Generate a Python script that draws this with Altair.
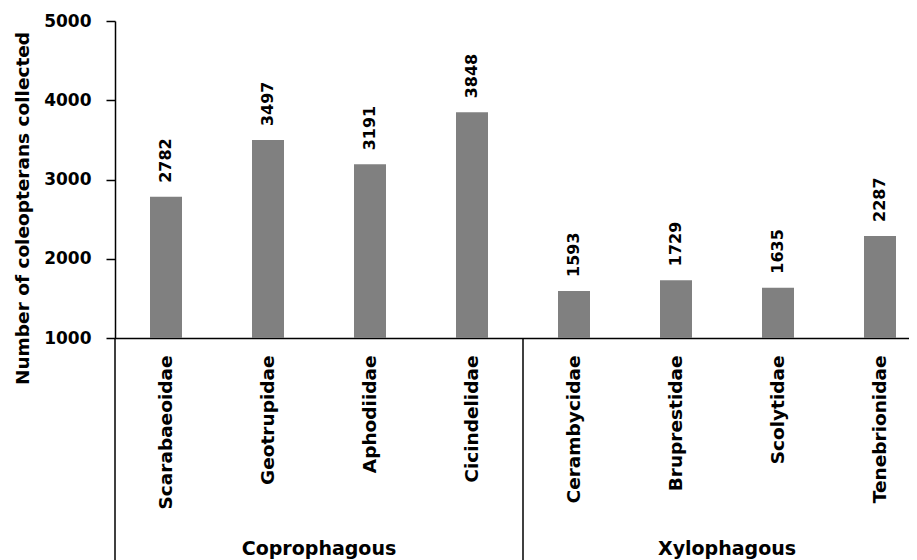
import altair as alt
import pandas as pd

families = ["Scarabaeoidae", "Geotrupidae", "Aphodiidae", "Cicindelidae",
            "Cerambycidae", "Bruprestidae", "Scolytidae", "Tenebrionidae"]
counts = [2782, 3497, 3191, 3848, 1593, 1729, 1635, 2287]
group_names = ["Coprophagous", "Xylophagous"]
group_sizes = [4, 4]
y_ticks = [1000, 2000, 3000, 4000, 5000]

FONT = "DejaVu Sans"

df = pd.DataFrame({"family": families, "count": counts})

starts = []
s = 0
for n in group_sizes:
    starts.append(s)
    s += n
groups_df = pd.DataFrame({
    "group": group_names,
    "anchor": [families[st + n // 2] for st, n in zip(starts, group_sizes)],
})
sep_df = pd.DataFrame({"family": [families[st] for st in starts]})

xscale = alt.Scale(domain=families, range=[0, 816], paddingInner=0, paddingOuter=0)
yscale = alt.Scale(domain=[1000, 5000], nice=False, zero=False)

x_enc = alt.X(
    "family:N", scale=xscale, sort=families, title=None,
    axis=alt.Axis(
        labelAngle=270, labelAlign="right", labelBaseline="middle",
        labelPadding=17, ticks=False, labelFont=FONT, labelFontWeight="bold",
        labelFontSize=18.5, labelColor="black", domainColor="black",
        domainWidth=1.5, labelLimit=300, grid=False,
    ),
)
y_enc = alt.Y(
    "count:Q", scale=yscale, title="Number of coleopterans collected",
    axis=alt.Axis(
        values=y_ticks, format="d", grid=False, tickSize=9, tickColor="black",
        tickWidth=1.5, labelPadding=15, labelFont=FONT, labelFontWeight="bold",
        labelFontSize=17, labelColor="black", domainColor="black",
        domainWidth=1.5, titleFont=FONT, titleFontWeight="bold",
        titleFontSize=18.5, titleColor="black", titleAngle=270,
        titleAlign="center", titleBaseline="middle", titleX=-93, titleY=187,
    ),
)

base = alt.Chart(df)

bars = base.mark_bar(size=32, color="#808080").encode(
    x=x_enc, y=y_enc, y2=alt.datum(1000)
)

labels = base.mark_text(
    angle=270, align="left", baseline="middle", dx=14,
    font=FONT, fontWeight="bold", fontSize=16, color="black",
).encode(
    x=alt.X("family:N", scale=xscale, sort=families),
    y=alt.Y("count:Q", scale=yscale),
    text=alt.Text("count:Q", format="d"),
)

seps = alt.Chart(sep_df).mark_rule(color="black", strokeWidth=1.5).encode(
    x=alt.X("family:N", scale=xscale, sort=families, bandPosition=0),
    y=alt.value(317),
    y2=alt.value(539),
)

group_text = alt.Chart(groups_df).mark_text(
    align="center", baseline="alphabetic", font=FONT, fontWeight="bold",
    fontSize=19, color="black",
).encode(
    x=alt.X("anchor:N", scale=xscale, sort=families, bandPosition=0),
    y=alt.value(534),
    text="group:N",
)

chart = alt.layer(bars, labels, seps, group_text).properties(
    width=794, height=317,
    autosize=alt.AutoSizeParams(type="none"),
    padding={"left": 107, "top": 13, "right": 0, "bottom": 222},
    background="white",
).configure_view(stroke=None)

chart.save("out.html", embed_options={"renderer": "svg", "actions": False})
